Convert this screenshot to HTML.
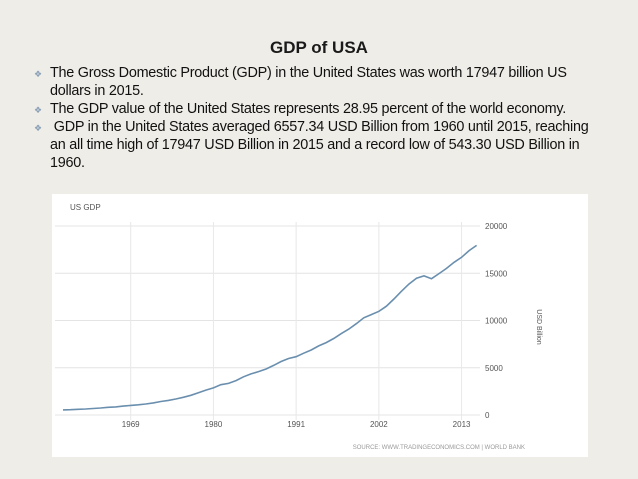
<!DOCTYPE html>
<html><head><meta charset="utf-8"><style>
body{margin:0;width:638px;height:479px;background:#efede7;font-family:"Liberation Sans",sans-serif;position:relative;overflow:hidden}
#title{position:absolute;top:38px;left:0;width:638px;text-align:center;font-weight:bold;font-size:17px;color:#1a1a1a}
ul{position:absolute;top:64px;left:34px;margin:0;padding:0;list-style:none;width:556px;font-size:14.4px;line-height:18px;color:#111;letter-spacing:-0.25px}
li{position:relative;padding-left:16px}
li:before{content:"\2756";position:absolute;left:0;top:1px;font-size:9px;color:#8aa0b8}
#chart{position:absolute;left:52px;top:194px;width:536px;height:263px;background:#fff}
</style></head><body>
<div id="title">GDP of USA</div>
<ul>
<li>The Gross Domestic Product (GDP) in the United States was worth 17947 billion US dollars in 2015.</li>
<li>The GDP value of the United States represents 28.95 percent of the world economy.</li>
<li>&nbsp;GDP in the United States averaged 6557.34 USD Billion from 1960 until 2015, reaching an all time high of 17947 USD Billion in 2015 and a record low of 543.30 USD Billion in 1960.</li>
</ul>
<svg id="chart" width="536" height="263" viewBox="52 194 536 263" style="position:absolute;left:52px;top:194px">
<text x="70" y="210" font-size="8" fill="#555">US GDP</text>
<g id="grid"></g><g id="xt"></g><g id="yt"></g>
<text transform="translate(537,327) rotate(90)" text-anchor="middle" font-size="7" fill="#555">USD Billion</text>
<text x="525" y="449" text-anchor="end" font-size="6" fill="#999">SOURCE: WWW.TRADINGECONOMICS.COM | WORLD BANK</text>
<path id="line" fill="none" stroke="#6a8fae" stroke-width="1.6"/>
</svg>
<script>
const years=[1960,1961,1962,1963,1964,1965,1966,1967,1968,1969,1970,1971,1972,1973,1974,1975,1976,1977,1978,1979,1980,1981,1982,1983,1984,1985,1986,1987,1988,1989,1990,1991,1992,1993,1994,1995,1996,1997,1998,1999,2000,2001,2002,2003,2004,2005,2006,2007,2008,2009,2010,2011,2012,2013,2014,2015];
const gdp=[543,563,605,639,686,744,815,862,943,1020,1075,1168,1282,1429,1549,1689,1878,2086,2357,2632,2863,3211,3345,3638,4041,4347,4590,4870,5253,5658,5980,6174,6539,6879,7309,7664,8100,8609,9089,9661,10285,10622,10978,11511,12275,13094,13856,14478,14719,14419,14964,15518,16155,16692,17393,17947];
const xTicks=[1969,1980,1991,2002,2013];
const yTicks=[0,5000,10000,15000,20000];
const X=y=>130.7+(y-1969)*7.52, Y=v=>415-v*(189/20000);
const NS="http://www.w3.org/2000/svg";
function mk(p,t,a){const e=document.createElementNS(NS,t);for(const k in a)e.setAttribute(k,a[k]);document.getElementById(p).appendChild(e);return e;}
yTicks.forEach(v=>{
 const l=mk('grid','line',{x1:55,x2:480,y1:Y(v),y2:Y(v),stroke:'#e4e4e4','stroke-width':1});
 
 
 const t=mk('yt','text',{x:485,y:Y(v)+3,'font-size':8,fill:'#555'});t.textContent=v;
 
 
});
xTicks.forEach(y=>{
 const l=mk('grid','line',{x1:X(y),x2:X(y),y1:222,y2:420,stroke:'#e8e8e8','stroke-width':1});
 
 
 const t=mk('xt','text',{x:X(y),y:427,'font-size':8,fill:'#555','text-anchor':'middle'});t.textContent=y;
 
 
});
document.getElementById('line').setAttribute('d',years.map((y,i)=>(i?'L':'M')+X(y).toFixed(1)+','+Y(gdp[i]).toFixed(1)).join(''));
</script>
</body></html>
